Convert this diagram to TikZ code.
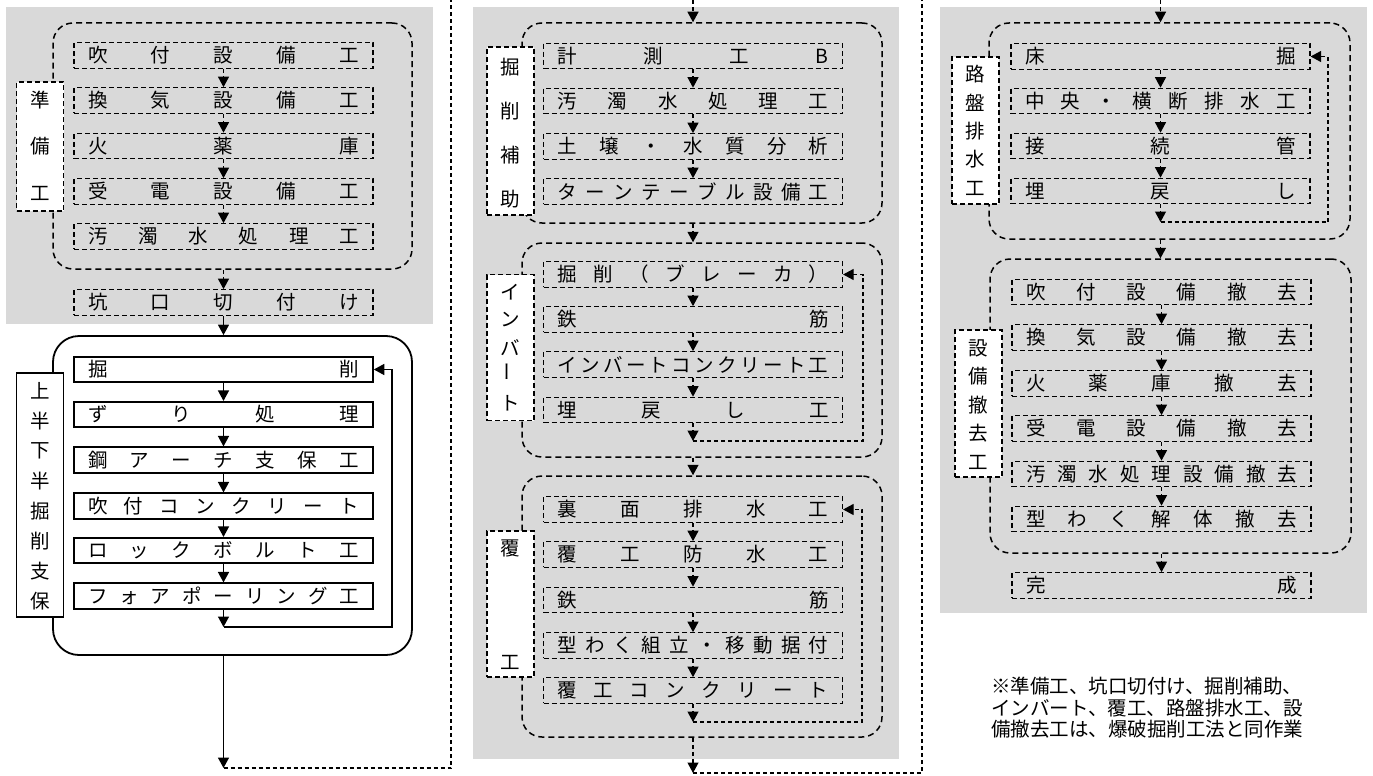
\documentclass[tikz,border=0pt]{standalone}
\usepackage{fontspec}
\usepackage{graphicx}
\setmainfont{Noto Sans CJK JP}
\usetikzlibrary{arrows.meta}
\definecolor{panel}{RGB}{217,217,217}
\newcommand\fs{\fontsize{19.5}{20}\selectfont}
\makeatletter
\def\dst@loop#1{\ifx\relax#1\else\hfill#1\expandafter\dst@loop\fi}
\def\dst@first#1{#1\dst@loop}
\newcommand\dist[1]{\hbox to 271pt{\dst@first#1\relax}}
\makeatother
\begin{document}
\begin{tikzpicture}[x=1pt,y=-1pt,
  item/.style={draw, line width=1.2pt, dash pattern=on 5pt off 3pt, minimum width=299pt, minimum height=25.5pt, inner sep=0pt, font=\fs},
  sitem/.style={draw, line width=1.6pt, fill=white, minimum width=299pt, minimum height=25.5pt, inner sep=0pt, font=\fs},
  lbl/.style={draw, fill=white, line width=1.2pt, dash pattern=on 5pt off 3pt, minimum width=47pt, inner sep=0pt},
  slbl/.style={draw, fill=white, line width=1.6pt, minimum width=47pt, inner sep=0pt},
  dgroup/.style={draw, line width=1.5pt, dash pattern=on 6pt off 4pt, rounded corners=20pt, inner sep=0pt},
  sgroup/.style={draw, line width=1.8pt, rounded corners=26pt, fill=white, inner sep=0pt},
  ch/.style={font=\fs, inner sep=0pt},
  dconn/.style={line width=1.2pt, dash pattern=on 4pt off 3pt},
  sconn/.style={line width=1.5pt},
  arr/.style={-{Triangle[width=11pt,length=10.5pt]}},
  note/.style={font=\fontsize{19.5}{21.5}\selectfont, align=left, inner sep=0pt, anchor=north west}
]
\useasboundingbox (0,0) rectangle (1373,776);
% panels
\fill[panel] (6,7) rectangle (433,324);
\fill[panel] (473,7) rectangle (899,759);
\fill[panel] (940,7) rectangle (1367,613);

% ================= LEFT COLUMN =================
\node[dgroup, minimum width=359pt, minimum height=246pt] (prepG) at (232.5,146) {};
\node[lbl, minimum height=129pt] (prepL) at (40,146.5) {};
\foreach \c [count=\i from 0] in {準,備,工}
  \node[ch] (prepL-\i) at (40,100+46.5*\i) {\c};
\node[item] (p1) at (223.5,55.5) {\dist{吹付設備工}};
\node[item] (p2) at (223.5,100.5) {\dist{換気設備工}};
\node[item] (p3) at (223.5,146) {\dist{火薬庫}};
\node[item] (p4) at (223.5,191.5) {\dist{受電設備工}};
\node[item] (p5) at (223.5,236.5) {\dist{汚濁水処理工}};
\node[item] (kg) at (223.5,302.5) {\dist{坑口切付け}};

\node[sgroup, minimum width=359pt, minimum height=319pt] (exG) at (232.5,495.5) {};
\node[slbl, minimum height=244pt] (exL) at (40,495) {};
\foreach \c [count=\i from 0] in {上,半,下,半,掘,削,支,保}
  \node[ch] (exL-\i) at (40,391+30*\i) {\c};
\node[sitem] (s1) at (223.5,369.5) {\dist{掘削}};
\node[sitem] (s2) at (223.5,414.5) {\dist{ずり処理}};
\node[sitem] (s3) at (223.5,460) {\dist{鋼アーチ支保工}};
\node[sitem] (s4) at (223.5,506) {\dist{吹付コンクリート}};
\node[sitem] (s5) at (223.5,550.5) {\dist{ロックボルト工}};
\node[sitem] (s6) at (223.5,596) {\dist{フォアポーリング工}};

\draw[dconn,arr] (p1) -- (p2);
\draw[dconn,arr] (p2) -- (p3);
\draw[dconn,arr] (p3) -- (p4);
\draw[dconn,arr] (p4) -- (p5);
\draw[dconn,arr] (kg.north |- prepG.south) -- (kg);
\draw[sconn,arr] (kg) -- (kg.south |- exG.north);
\draw[sconn,arr] (s1) -- (s2);
\draw[sconn,arr] (s2) -- (s3);
\draw[sconn,arr] (s3) -- (s4);
\draw[sconn,arr] (s4) -- (s5);
\draw[sconn,arr] (s5) -- (s6);
\coordinate (sLoopA) at (223.5,627);
\coordinate (sLoopB) at (392,627);
\draw[sconn,arr] (s6) -- (sLoopA);
\draw[sconn,arr] (sLoopA) -- (sLoopB) |- (s1.east);
\coordinate (lBot) at (223.5,768);
\coordinate (lCorner) at (451,768);
\coordinate (lTop) at (451,0);
\draw[sconn,arr] (exG.south -| s1) -- (lBot);
\draw[dconn] (lBot) -- (lCorner) -- (lTop);

% ================= MIDDLE COLUMN =================
\node[dgroup, minimum width=360pt, minimum height=200pt] (mg1) at (702,123) {};
\node[lbl, minimum height=168pt] (mL1) at (510.5,131) {};
\foreach \c [count=\i from 0] in {掘,削,補,助}
  \node[ch] (mL1-\i) at (510.5,67+44*\i) {\c};
\node[item] (m1) at (693,56) {\dist{計測工B}};
\node[item] (m2) at (693,101) {\dist{汚濁水処理工}};
\node[item] (m3) at (693,146.5) {\dist{土壌・水質分析}};
\node[item] (m4) at (693,191.5) {\dist{ターンテーブル設備工}};

\node[dgroup, minimum width=360pt, minimum height=214pt] (mg2) at (702,350) {};
\node[lbl, minimum height=146pt] (mL2) at (510.5,347.5) {};
\node[ch] (mL2-0) at (510.5,292) {イ};
\node[ch] (mL2-1) at (510.5,320) {ン};
\node[ch] (mL2-2) at (510.5,348) {バ};
\node[ch, rotate=90] (mL2-3) at (510.5,372) {ー};
\node[ch] (mL2-4) at (510.5,403) {ト};
\node[item] (n1) at (693,274.5) {\dist{掘削（ブレーカ）}};
\node[item] (n2) at (693,319.5) {\dist{鉄筋}};
\node[item] (n3) at (693,364.5) {\dist{インバートコンクリート工}};
\node[item] (n4) at (693,410) {\dist{埋戻し工}};

\node[dgroup, minimum width=360pt, minimum height=261pt] (mg3) at (702,606.5) {};
\node[lbl, minimum height=146pt] (mL3) at (510.5,604) {};
\node[ch] (mL3-0) at (510.5,548) {覆};
\node[ch] (mL3-1) at (510.5,662) {工};
\node[item] (c1) at (693,509.5) {\dist{裏面排水工}};
\node[item] (c2) at (693,554.5) {\dist{覆工防水工}};
\node[item] (c3) at (693,600) {\dist{鉄筋}};
\node[item] (c4) at (693,645.5) {\dist{型わく組立・移動据付}};
\node[item] (c5) at (693,690.5) {\dist{覆工コンクリート}};

\coordinate (mTop) at (693,0);
\draw[dconn,arr] (mTop) -- (mTop |- mg1.north);
\draw[dconn,arr] (m1) -- (m2);
\draw[dconn,arr] (m2) -- (m3);
\draw[dconn,arr] (m3) -- (m4);
\draw[dconn,arr] (m4.south |- mg1.south) -- (m4.south |- mg2.north);
\draw[dconn,arr] (n1) -- (n2);
\draw[dconn,arr] (n2) -- (n3);
\draw[dconn,arr] (n3) -- (n4);
\coordinate (nLoopA) at (693,441);
\coordinate (nLoopB) at (863,441);
\draw[dconn,arr] (n4) -- (nLoopA);
\draw[dconn,arr] (nLoopA) -- (nLoopB) |- (n1.east);
\draw[dconn,arr] (n4.south |- mg2.south) -- (n4.south |- mg3.north);
\draw[dconn,arr] (c1) -- (c2);
\draw[dconn,arr] (c2) -- (c3);
\draw[dconn,arr] (c3) -- (c4);
\draw[dconn,arr] (c4) -- (c5);
\coordinate (cLoopA) at (693,722);
\coordinate (cLoopB) at (862,722);
\draw[dconn,arr] (c5) -- (cLoopA);
\draw[dconn,arr] (cLoopA) -- (cLoopB) |- (c1.east);
\coordinate (mBot) at (693,773);
\coordinate (mCorner) at (922,773);
\coordinate (mTopR) at (922,0);
\draw[dconn,arr] (c5.south |- mg3.south) -- (mBot);
\draw[dconn] (mBot) -- (mCorner) -- (mTopR);

% ================= RIGHT COLUMN =================
\node[dgroup, minimum width=361pt, minimum height=216pt] (rg1) at (1169.5,131) {};
\node[lbl, minimum height=147pt] (rL1) at (975.5,130.5) {};
\foreach \c [count=\i from 0] in {路,盤,排,水,工}
  \node[ch] (rL1-\i) at (975.5,74+28.5*\i) {\c};
\node[item] (r1) at (1160.5,56.5) {\dist{床掘}};
\node[item] (r2) at (1160.5,101) {\dist{中央・横断排水工}};
\node[item] (r3) at (1160.5,146) {\dist{接続管}};
\node[item] (r4) at (1160.5,191) {\dist{埋戻し}};

\node[dgroup, minimum width=361pt, minimum height=294pt] (rg2) at (1170.5,406) {};
\node[lbl, minimum height=147pt] (rL2) at (978.5,403.5) {};
\foreach \c [count=\i from 0] in {設,備,撤,去,工}
  \node[ch] (rL2-\i) at (978.5,348+28.5*\i) {\c};
\node[item] (r5) at (1161.5,292) {\dist{吹付設備撤去}};
\node[item] (r6) at (1161.5,337.5) {\dist{換気設備撤去}};
\node[item] (r7) at (1161.5,383.5) {\dist{火薬庫撤去}};
\node[item] (r8) at (1161.5,428.5) {\dist{受電設備撤去}};
\node[item] (r9) at (1161.5,474) {\dist{汚濁水処理設備撤去}};
\node[item] (r10) at (1161.5,519) {\dist{型わく解体撤去}};
\node[item] (r11) at (1161.5,585.5) {\dist{完成}};

\coordinate (rTop) at (1160.5,0);
\draw[dconn,arr] (rTop) -- (rTop |- rg1.north);
\draw[dconn,arr] (r1) -- (r2);
\draw[dconn,arr] (r2) -- (r3);
\draw[dconn,arr] (r3) -- (r4);
\coordinate (rLoopA) at (1160.5,222);
\coordinate (rLoopB) at (1328,222);
\draw[dconn,arr] (r4) -- (rLoopA);
\draw[dconn,arr] (rLoopA) -- (rLoopB) |- (r1.east);
\draw[dconn,arr] (r4.south |- rg1.south) -- (r4.south |- rg2.north);
\draw[dconn,arr] (r5) -- (r6);
\draw[dconn,arr] (r6) -- (r7);
\draw[dconn,arr] (r7) -- (r8);
\draw[dconn,arr] (r8) -- (r9);
\draw[dconn,arr] (r9) -- (r10);
\draw[dconn,arr] (r10.south |- rg2.south) -- (r11);

% note
\node[note] (noteText) at (991,677) {※準備工、坑口切付け、掘削補助、\\インバート、覆工、路盤排水工、設\\備撤去工は、爆破掘削工法と同作業};
\end{tikzpicture}
\end{document}
